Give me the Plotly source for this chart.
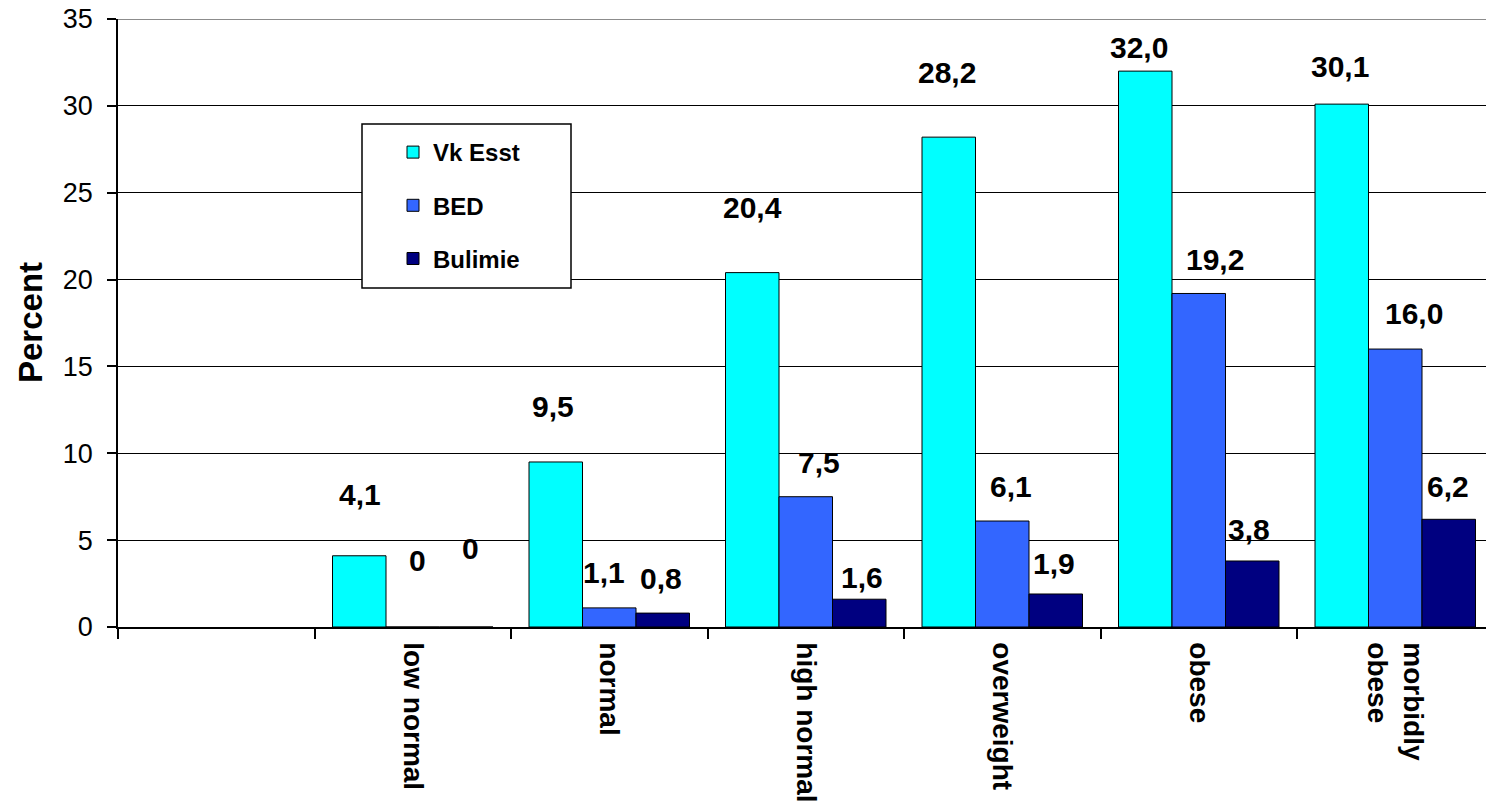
import plotly.graph_objects as go

# BMI classes and prevalence (%) per eating-behaviour group
categories = ["low normal", "normal", "high normal", "overweight", "obese", "morbidly<br>obese"]
vk_esst = [4.1, 9.5, 20.4, 28.2, 32.0, 30.1]
bed = [0.0, 1.1, 7.5, 6.1, 19.2, 16.0]
bulimie = [0.0, 0.8, 1.6, 1.9, 3.8, 6.2]
series_names = ["Vk Esst", "BED", "Bulimie"]
y_ticks = [0, 5, 10, 15, 20, 25, 30, 35]

series_values = [vk_esst, bed, bulimie]
colors = ["#00FFFF", "#3366FF", "#000080"]

# data-label placement in px: sideways nudge and lift above the bar top
label_dx = [[1, -3, 0, -2, -6, -2],
            [5, -5, 13, 9, 16, 19],
            [4, -2, 3, -2, -3, -1]]
label_lift = [[61, 55, 65, 65, 24, 38],
              [67, 35, 34, 35, 34, 36],
              [79, 35, 22, 30, 31, 33]]

FONT = "Liberation Sans, Arial, sans-serif"
W, H = 1486, 807
ML, MR, MT, MB = 118, 0, 19, 180
PW, PH = W - ML - MR, H - MT - MB
SLOT = 196.5          # px per category slot
BAR = 53.5            # px per bar

axis_cats = [" "] + categories

fig = go.Figure()
for name, vals, col in zip(series_names, series_values, colors):
    fig.add_trace(go.Bar(
        name=name, x=categories, y=vals, legendgroup=name,
        marker=dict(color=col, line=dict(color="black", width=1)),
    ))


def fmt(v):
    return "0" if v == 0 else f"{v:.1f}".replace(".", ",")


annotations = []
for s, vals in enumerate(series_values):
    for i, v in enumerate(vals):
        annotations.append(dict(
            x=categories[i], y=v, xref="x", yref="y",
            text=fmt(v), showarrow=False,
            xshift=(s - 1) * BAR + label_dx[s][i], yshift=label_lift[s][i],
            font=dict(family=FONT, size=30, color="black", weight="bold"),
        ))

annotations.append(dict(
    x=0, y=0.5, xref="paper", yref="paper", xshift=-88,
    xanchor="center", yanchor="middle",
    text="Percent", textangle=-90, showarrow=False,
    font=dict(family=FONT, size=33, color="black", weight="bold"),
))


def px_x(p):
    return (p - ML) / PW


def px_y(p):
    return (H - MB - p) / PH


shapes = [
    dict(type="line", xref="paper", yref="y", x0=0, x1=1, y0=35, y1=35,
         line=dict(color="#8c8c8c", width=2), layer="above"),
    dict(type="rect", xref="paper", yref="paper",
         x0=px_x(362), x1=px_x(571), y0=px_y(288), y1=px_y(124),
         fillcolor="white", line=dict(color="black", width=1.5), layer="above"),
]

fig.update_layout(
    width=W, height=H, autosize=False,
    margin=dict(l=ML, r=MR, t=MT, b=MB, pad=0),
    paper_bgcolor="white", plot_bgcolor="white",
    barmode="group", bargap=(SLOT - 3 * BAR) / SLOT, bargroupgap=0,
    font=dict(family=FONT, color="black"),
    showlegend=True,
    legend=dict(
        x=px_x(393), y=px_y(130), xanchor="left", yanchor="top",
        bgcolor="rgba(0,0,0,0)", borderwidth=0,
        traceorder="grouped", tracegroupgap=19,
        font=dict(family=FONT, size=24, color="black", weight="bold"),
    ),
    annotations=annotations,
    shapes=shapes,
    xaxis=dict(
        type="category", categoryorder="array", categoryarray=axis_cats,
        range=[-0.5, -0.5 + PW / SLOT], automargin=False,
        showline=True, linecolor="black", linewidth=1.5,
        ticks="outside", ticklen=10, tickcolor="black", tickwidth=1.5,
        tickson="boundaries", tickangle=90, showgrid=False,
        ticklabelstandoff=8,
        tickfont=dict(family=FONT, size=28, color="black", weight="bold"),
    ),
    yaxis=dict(
        range=[0, 35], tickvals=y_ticks, automargin=False,
        showline=True, linecolor="black", linewidth=1.5,
        ticks="outside", ticklen=9, tickcolor="black", tickwidth=1.5,
        ticklabelstandoff=9,
        showgrid=True, gridcolor="black", gridwidth=1.2, zeroline=False,
        tickfont=dict(family=FONT, size=27, color="black"),
    ),
)

fig.write_html("out.html")
